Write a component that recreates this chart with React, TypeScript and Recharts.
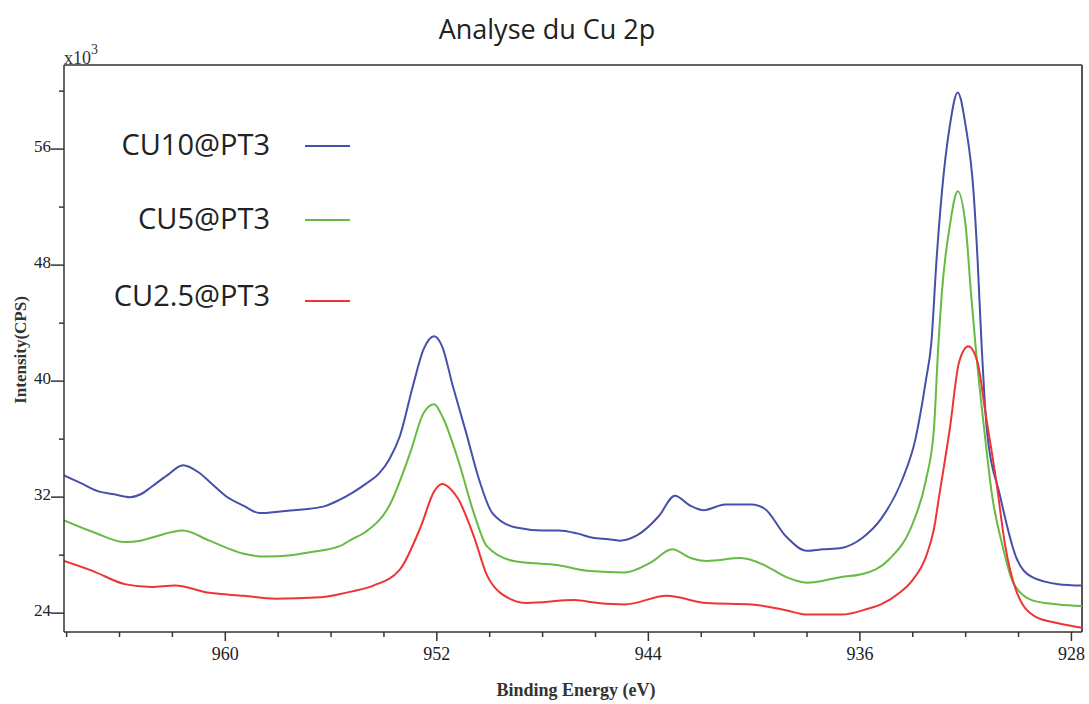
import { LineChart, Line, XAxis, YAxis, Legend, ReferenceLine } from "recharts"

// Cu 2p XPS spectra, binding energy (eV) vs intensity (x10^3 CPS)
const seriesNames = ["CU10@PT3", "CU5@PT3", "CU2.5@PT3"]

const cu10Energy = [966.1, 965.5, 964.8, 964.2, 963.6, 963.2, 962.8, 962.2, 961.6, 961.0, 960.5, 960.0, 959.3, 958.7, 958.0, 957.4, 956.8, 956.2, 955.7, 955.2, 954.7, 954.2, 953.8, 953.4, 952.9, 952.5, 952.1, 951.8, 951.4, 950.9, 950.4, 949.9, 949.0, 948.0, 947.4, 946.7, 946.1, 945.5, 945.1, 944.4, 943.6, 943.0, 942.4, 941.9, 941.1, 940.1, 939.6, 938.8, 938.0, 937.4, 936.7, 935.9, 935.2, 934.4, 933.9, 933.5, 933.3, 933.1, 932.9, 932.6, 932.3, 932.0, 931.7, 931.55, 931.4, 931.2, 930.7, 930.1, 929.5, 928.5, 927.6]
const cu10Counts = [33.5, 33.0, 32.4, 32.2, 32.0, 32.2, 32.7, 33.5, 34.2, 33.7, 32.9, 32.1, 31.4, 30.9, 31.0, 31.1, 31.2, 31.4, 31.8, 32.3, 32.9, 33.6, 34.6, 36.2, 39.7, 42.2, 43.1, 42.4, 39.7, 36.5, 33.2, 30.9, 29.9, 29.7, 29.7, 29.5, 29.2, 29.1, 29.0, 29.4, 30.7, 32.1, 31.4, 31.1, 31.5, 31.5, 31.2, 29.3, 28.3, 28.4, 28.5, 29.2, 30.5, 33.2, 36.0, 40.1, 42.6, 48.4, 53.0, 57.6, 59.9, 57.6, 53.0, 48.4, 42.6, 36.7, 32.1, 27.9, 26.5, 26.0, 25.9]

const cu5Energy = [966.1, 965.0, 963.8, 963.2, 962.8, 961.6, 960.6, 959.3, 958.5, 957.5, 956.8, 955.7, 955.2, 954.7, 953.8, 953.0, 952.5, 952.1, 951.8, 951.2, 950.6, 950.1, 949.1, 947.4, 946.2, 944.9, 943.9, 943.1, 942.4, 941.8, 940.5, 939.6, 938.8, 938.0, 936.7, 935.9, 934.9, 934.0, 933.5, 933.2, 933.05, 932.9, 932.6, 932.3, 932.0, 931.8, 931.6, 931.3, 931.0, 930.6, 930.2, 929.5, 928.5, 927.6]
const cu5Counts = [30.4, 29.6, 28.9, 29.0, 29.2, 29.7, 29.0, 28.1, 27.9, 28.0, 28.2, 28.6, 29.1, 29.6, 31.4, 35.1, 37.8, 38.4, 37.6, 34.6, 30.9, 28.6, 27.6, 27.3, 26.9, 26.8, 27.5, 28.4, 27.8, 27.6, 27.8, 27.3, 26.5, 26.1, 26.5, 26.7, 27.7, 30.2, 33.2, 36.7, 41.9, 46.1, 50.7, 53.1, 50.7, 46.1, 41.9, 36.7, 32.1, 28.6, 26.1, 24.9, 24.6, 24.5]

const cu25Energy = [966.1, 965.0, 963.8, 962.8, 961.9, 960.6, 959.3, 958.1, 956.4, 955.7, 955.2, 954.4, 953.4, 952.6, 952.1, 951.8, 951.5, 951.2, 950.6, 950.1, 949.6, 948.6, 946.8, 945.9, 944.9, 943.3, 941.8, 940.1, 938.8, 938.0, 936.7, 935.7, 935.2, 934.5, 934.0, 933.5, 933.2, 933.0, 932.6, 932.25, 931.9, 931.55, 931.25, 930.85, 930.5, 930.1, 929.4, 928.5, 927.6]
const cu25Counts = [27.6, 26.9, 26.0, 25.8, 25.9, 25.4, 25.2, 25.0, 25.1, 25.3, 25.5, 25.9, 27.0, 30.0, 32.4, 32.9, 32.6, 31.9, 29.3, 26.6, 25.4, 24.7, 24.9, 24.7, 24.6, 25.2, 24.7, 24.6, 24.2, 23.9, 23.9, 24.3, 24.6, 25.4, 26.3, 27.9, 29.8, 32.1, 36.7, 41.3, 42.4, 41.3, 37.8, 33.2, 28.6, 25.6, 23.8, 23.3, 23.0]

const xTicks = [966, 964, 962, 960, 958, 956, 954, 952, 950, 948, 946, 944, 942, 940, 938, 936, 934, 932, 930, 928]
const xMajorTicks = [960, 952, 944, 936, 928]
const yTicks = [24, 28, 32, 36, 40, 44, 48, 52, 56, 60]
const yMajorTicks = [24, 32, 40, 48, 56]

const toPoints = (energy: number[], counts: number[]) =>
  energy.map((be, i) => ({ be, counts: counts[i] }))

const serif = "'Liberation Serif', 'DejaVu Serif', serif"
const sans = "'Open Sans', 'Noto Sans', sans-serif"

function EnergyTick({ x, y, payload }: any) {
  const major = xMajorTicks.includes(payload.value)
  return (
    <g>
      <line x1={x} x2={x} y1={y} y2={y + (major ? 9 : 5)} stroke="#333" strokeWidth={1.5} />
      {major && (
        <text x={x} y={y + 28} textAnchor="middle" fontSize={18} fill="#222" fontFamily={serif}>
          {payload.value}
        </text>
      )}
    </g>
  )
}

function CountTick({ x, y, payload }: any) {
  const major = yMajorTicks.includes(payload.value)
  return (
    <g>
      <line x1={x - (major ? 13 : 5)} x2={x} y1={y} y2={y} stroke="#333" strokeWidth={1.5} />
      {major && (
        <text x={x - 13} y={y + 3} textAnchor="end" fontSize={17} fill="#222" fontFamily={serif}>
          {payload.value}
        </text>
      )}
    </g>
  )
}

function SeriesLegend({ payload }: any) {
  const rows = [25, 99, 176]
  const items = seriesNames
    .map((name) => (payload || []).find((p: any) => p.value === name))
    .filter(Boolean)
  return (
    <svg width={270} height={200}>
      {items.map((entry: any, i: number) => (
        <g key={entry.value}>
          <text x={170} y={rows[i] + 10} textAnchor="end" fontSize={29} fill="#222" fontFamily={sans}>
            {entry.value}
          </text>
          <line
            x1={205}
            x2={250}
            y1={rows[i] + (i === 2 ? 5 : 1)}
            y2={rows[i] + (i === 2 ? 5 : 1)}
            stroke={entry.color}
            strokeWidth={2}
          />
        </g>
      ))}
    </svg>
  )
}

export default function App() {
  return (
    <div style={{ position: "absolute", left: 0, top: 0, width: 1089, height: 704, background: "#fff" }}>
      <div
        style={{
          position: "absolute",
          top: 10,
          left: 0,
          width: 1094,
          textAlign: "center",
          fontFamily: sans,
          fontSize: 27,
          lineHeight: "38px",
          color: "#222",
        }}
      >
        Analyse du Cu 2p
      </div>
      <LineChart width={1089} height={704} margin={{ top: 65, right: 7, bottom: 42, left: 0 }}>
        <XAxis
          type="number"
          dataKey="be"
          domain={[927.6, 966.1]}
          reversed
          allowDataOverflow
          ticks={xTicks}
          interval={0}
          tick={<EnergyTick />}
          tickLine={false}
          tickSize={0}
          tickMargin={0}
          height={30}
          axisLine={{ stroke: "#333", strokeWidth: 1.5 }}
          label={{
            content: () => (
              <text x={576} y={696} textAnchor="middle" fontSize={18} fontWeight="bold" fill="#333" fontFamily={serif}>
                Binding Energy (eV)
              </text>
            ),
          }}
        />
        <YAxis
          type="number"
          domain={[22.7, 61.8]}
          allowDataOverflow
          ticks={yTicks}
          interval={0}
          tick={<CountTick />}
          tickLine={false}
          tickSize={0}
          tickMargin={0}
          width={64}
          axisLine={{ stroke: "#333", strokeWidth: 1.5 }}
          label={{
            content: () => (
              <g>
                <text
                  x={20}
                  y={350}
                  transform="rotate(-90, 20, 350)"
                  textAnchor="middle"
                  dominantBaseline="central"
                  fontSize={17}
                  fontWeight="bold"
                  fill="#333"
                  fontFamily={serif}
                >
                  Intensity(CPS)
                </text>
                <text x={64} y={64} fontSize={18} fill="#333" fontFamily={serif}>
                  x10
                  <tspan dy={-10} fontSize={14}>3</tspan>
                </text>
              </g>
            ),
          }}
        />
        <ReferenceLine y={61.8} stroke="#333" strokeWidth={1.5} />
        <ReferenceLine x={927.6} stroke="#555" strokeWidth={2} />
        <Legend
          layout="vertical"
          align="center"
          verticalAlign="middle"
          content={<SeriesLegend />}
          wrapperStyle={{ left: 100, top: 120, width: 270, height: 200 }}
        />
        <Line
          data={toPoints(cu10Energy, cu10Counts)}
          dataKey="counts"
          name={seriesNames[0]}
          type="monotone"
          stroke="#4650a8"
          strokeWidth={2}
          dot={false}
          isAnimationActive={false}
        />
        <Line
          data={toPoints(cu5Energy, cu5Counts)}
          dataKey="counts"
          name={seriesNames[1]}
          type="monotone"
          stroke="#66bb44"
          strokeWidth={2}
          dot={false}
          isAnimationActive={false}
        />
        <Line
          data={toPoints(cu25Energy, cu25Counts)}
          dataKey="counts"
          name={seriesNames[2]}
          type="monotone"
          stroke="#ee3535"
          strokeWidth={2}
          dot={false}
          isAnimationActive={false}
        />
      </LineChart>
    </div>
  )
}
